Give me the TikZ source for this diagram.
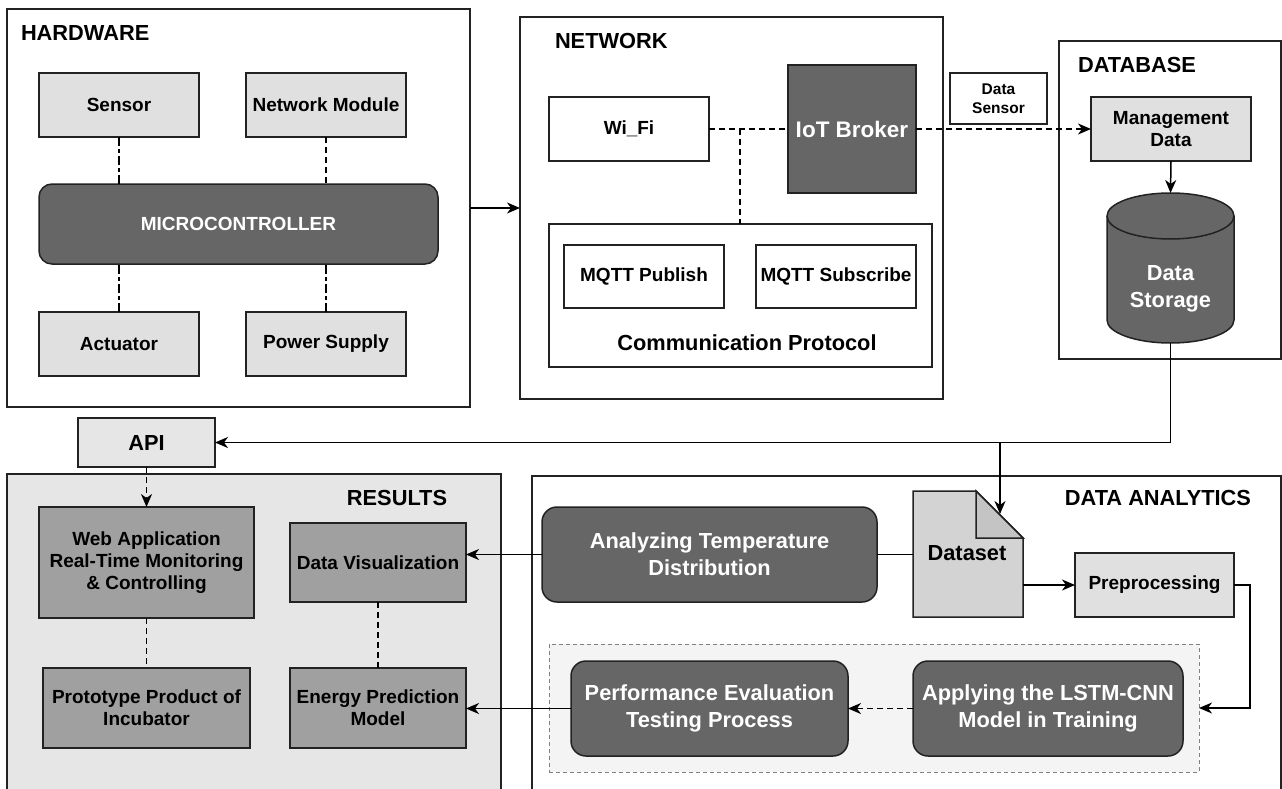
\documentclass[tikz,border=0pt]{standalone}
\usepackage{fontspec}
\setmainfont{Liberation Sans}
\usetikzlibrary{arrows.meta}
\definecolor{dgray}{HTML}{666666}
\definecolor{lgray}{HTML}{E0E0E0}
\definecolor{mgray}{HTML}{A0A0A0}
\definecolor{bgray}{HTML}{E6E6E6}
\definecolor{dsgray}{HTML}{D3D3D3}
\definecolor{fgray}{HTML}{C4C4C4}
\definecolor{cgray}{HTML}{F4F4F4}
\definecolor{lineg}{HTML}{222222}
\begin{document}
\begin{tikzpicture}[x=1pt,y=-1pt,
  every node/.style={inner sep=0pt, outer sep=0pt, align=center},
  big/.style={font=\bfseries\fontsize{21.8}{27}\selectfont},
  small/.style={font=\bfseries\fontsize{19}{22}\selectfont},
  tiny/.style={font=\bfseries\fontsize{15.5}{19}\selectfont},
  frame/.style={draw=lineg, line width=1.5pt},
  lbox/.style={frame, fill=lgray, small},
  wbox/.style={frame, fill=white, small},
  mbox/.style={frame, fill=mgray, small},
  dbox/.style={frame, fill=dgray, text=white, big},
  title/.style={big},
  conn/.style={draw=black, line width=1.5pt},
  arr/.style={conn, -{Stealth[length=13pt,width=11pt,inset=4pt]}},
  dsh/.style={conn, dash pattern=on 6pt off 4pt},
  dshdot/.style={conn, dash pattern=on 9pt off 3pt on 4pt off 3pt},
  dsharr/.style={dsh, -{Stealth[length=13pt,width=11pt,inset=4pt]}}
]
\useasboundingbox (0,0) rectangle (1282,789);
\fill[white] (0,0) rectangle (1282,789);

% ---------------- HARDWARE ----------------
\node[frame, minimum width=463pt, minimum height=398pt] (hw) at (238.5,208) {};
\node[title, anchor=west] (hwt) at (21,33) {HARDWARE};
\node[lbox, minimum width=160pt, minimum height=64pt] (sensor) at (119,105) {Sensor};
\node[lbox, minimum width=160pt, minimum height=64pt] (netmod) at (326,105) {Network Module};
\node[frame, fill=dgray, text=white, small, rounded corners=13pt, minimum width=399pt, minimum height=80pt] (mc) at (238.5,224) {MICROCONTROLLER};
\node[lbox, minimum width=160pt, minimum height=64pt] (act) at (119,344) {Actuator};
\node[lbox, minimum width=160pt, minimum height=64pt] (power) at (326,344) {Power Supply};
\draw[dshdot] (sensor.south) -- (sensor.south |- mc.north);
\draw[dsh] (netmod.south) -- (netmod.south |- mc.north);
\draw[dshdot] (act.north) -- (act.north |- mc.south);
\draw[dshdot] (power.north) -- (power.north |- mc.south);

% ---------------- NETWORK ----------------
\node[frame, minimum width=423pt, minimum height=382pt] (net) at (731.5,208) {};
\node[title, anchor=west] (nett) at (555,41) {NETWORK};
\node[wbox, minimum width=160pt, minimum height=64pt] (wifi) at (629,129) {Wi\_Fi};
\node[dbox, minimum width=128pt, minimum height=128pt, font=\bfseries\fontsize{22.5}{27}\selectfont] (broker) at (852,129) {IoT Broker};
\node[frame, minimum width=383pt, minimum height=143pt] (comm) at (740.5,295.5) {};
\node[big] (commlbl) at (747,343) {Communication Protocol};
\node[wbox, minimum width=160pt, minimum height=63pt] (pub) at (644,276.5) {MQTT Publish};
\node[wbox, minimum width=160pt, minimum height=63pt] (sub) at (836,276.5) {MQTT Subscribe};
\coordinate (J) at (740,129);
\draw[dsh] (wifi.east) -- (broker.west);
\draw[dsh] (J) -- (J |- comm.north);
\draw[arr] (hw.east) -- (net.west);

% ---------------- DATABASE ----------------
\node[frame, minimum width=222pt, minimum height=318pt] (db) at (1170,200) {};
\node[title, anchor=west] (dbt) at (1078,65) {DATABASE};
\node[wbox, tiny, line width=1.2pt, minimum width=97pt, minimum height=51pt] (dsensor) at (998.5,98.5) {Data\\Sensor};
\node[lbox, minimum width=160pt, minimum height=64pt] (mgmt) at (1171,129) {Management\\Data};
\node[minimum width=127pt, minimum height=150pt] (storage) at (1170.5,268) {};
\filldraw[frame, fill=dgray] (1107,216) -- (1107,320) arc[start angle=180, end angle=360, x radius=63.5pt, y radius=23pt] -- (1234,216) arc[start angle=0, end angle=180, x radius=63.5pt, y radius=23pt] -- cycle;
\draw[frame] (1107,216) arc[start angle=180, end angle=360, x radius=63.5pt, y radius=23pt];
\node[big, text=white] (stlbl) at (1170.5,289) {Data\\Storage};
\draw[dsharr] (broker.east) -- (mgmt.west);
\draw[arr] (mgmt.south) -- (storage.north);

% ---------------- API / RESULTS ----------------
\node[frame, fill=bgray, big, minimum width=137pt, minimum height=49pt] (api) at (146.5,442.5) {API};
\begin{scope}
\clip (0,0) rectangle (1282,789);
\filldraw[frame, fill=bgray] (7,474) -- (501,474) -- (501,795) -- (7,795) -- cycle;
\filldraw[frame, fill=white] (532,476) -- (1281,476) -- (1281,795) -- (532,795) -- cycle;
\end{scope}
\node[title] (rest) at (397,498) {RESULTS};
\node[mbox, minimum width=215pt, minimum height=111pt] (web) at (146.5,562.5) {Web Application\\Real-Time Monitoring\\\& Controlling};
\node[mbox, minimum width=207pt, minimum height=80pt] (proto) at (146.5,708) {Prototype Product of\\Incubator};
\node[mbox, minimum width=176pt, minimum height=79pt] (datavis) at (378,562.5) {Data Visualization};
\node[mbox, minimum width=176pt, minimum height=80pt] (energy) at (378,708) {Energy Prediction\\Model};
\draw[dsharr] (api.south) -- (web.north);
\draw[dsh] (web.south) -- (proto.north);
\draw[dsh] (datavis.south) -- (energy.north);

% ---------------- DATA ANALYTICS ----------------
\node[title, anchor=east] (dat) at (1251,498) {DATA ANALYTICS};
\node[draw=gray, line width=1pt, dash pattern=on 4pt off 3pt, fill=cgray, minimum width=650pt, minimum height=128pt] (cont) at (874,708) {};
\node[dbox, rounded corners=15pt, minimum width=335pt, minimum height=95pt] (analyz) at (709.5,554.5) {Analyzing Temperature\\Distribution};
\node[minimum width=110pt, minimum height=126pt] (dataset) at (968,554) {};
\filldraw[frame, fill=dsgray] (913,491) -- (976,491) -- (1023,538) -- (1023,617) -- (913,617) -- cycle;
\filldraw[frame, fill=fgray] (976,491) -- (976,538) -- (1023,538) -- cycle;
\node[big, text=black] (dstext) at (967,553) {Dataset};
\coordinate (dsfold) at (1000,514);
\node[lbox, minimum width=159pt, minimum height=64pt] (prep) at (1154.5,585) {Preprocessing};
\node[dbox, rounded corners=15pt, minimum width=277pt, minimum height=95pt] (perf) at (709.5,708.5) {Performance Evaluation\\Testing Process};
\node[dbox, rounded corners=15pt, minimum width=270pt, minimum height=95pt] (apply) at (1048,708.5) {Applying the LSTM-CNN\\Model in Training};

% connectors
\draw[arr] (storage.south) |- (api.east);
\draw[arr] (dsfold |- api.east) -- (dsfold);
\draw[conn] (analyz.east) -- (analyz.east -| dataset.west);
\draw[arr] (analyz.west) -- (analyz.west -| datavis.east);
\draw[arr] (prep.west -| dataset.east) -- (prep.west);
\draw[arr] (prep.east) -- ++(16,0) |- (cont.east);
\draw[dsharr] (apply.west) -- (perf.east);
\draw[arr] (perf.west) -- (perf.west -| energy.east);
\end{tikzpicture}
\end{document}
